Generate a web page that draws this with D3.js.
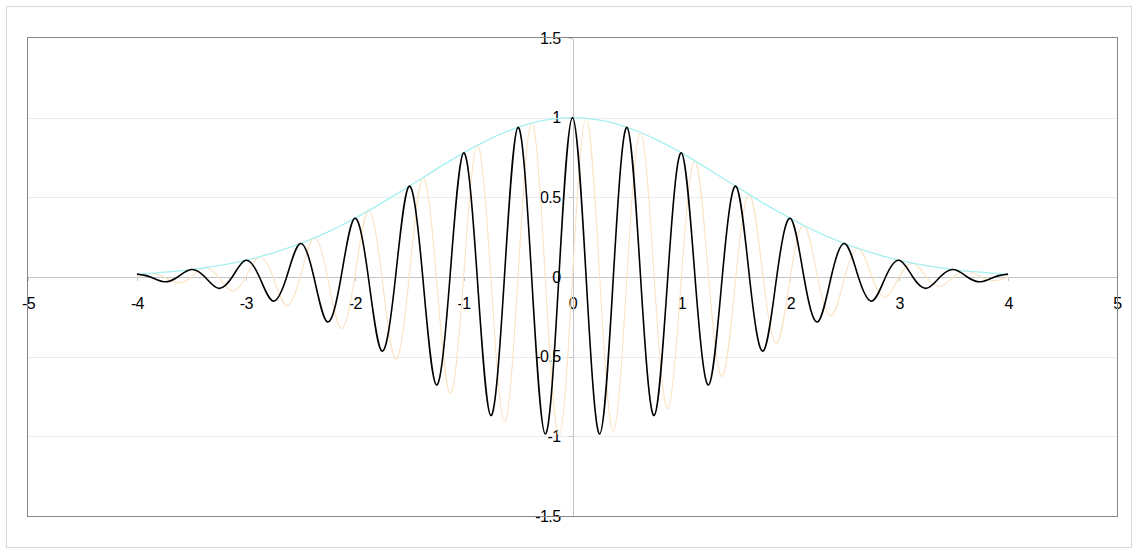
<!DOCTYPE html>
<html>
<head>
  <meta charset="utf-8">
  <script src="https://d3js.org/d3.v7.min.js"></script>
  <style>
    body { margin: 0; background: #ffffff; }
    text { font-family: 'Liberation Sans', Arial, sans-serif; font-size: 16px; fill: #000; }
    .grid line { stroke: #ececec; shape-rendering: crispEdges; }
    .axis path, .axis line { stroke: #c4c4c4; shape-rendering: crispEdges; }
    .line { fill: none; }
  </style>
</head>
<body>
  <div id="chart"></div>
  <script>
    // sample grid (x): every 1/8 unit from -4 to 4
    var xs = [-4, -3.875, -3.75, -3.625, -3.5, -3.375, -3.25, -3.125,
      -3, -2.875, -2.75, -2.625, -2.5, -2.375, -2.25, -2.125,
      -2, -1.875, -1.75, -1.625, -1.5, -1.375, -1.25, -1.125,
      -1, -0.875, -0.75, -0.625, -0.5, -0.375, -0.25, -0.125,
      0, 0.125, 0.25, 0.375, 0.5, 0.625, 0.75, 0.875,
      1, 1.125, 1.25, 1.375, 1.5, 1.625, 1.75, 1.875,
      2, 2.125, 2.25, 2.375, 2.5, 2.625, 2.75, 2.875,
      3, 3.125, 3.25, 3.375, 3.5, 3.625, 3.75, 3.875, 4];

    // black wave
    var blackVals = [0.018, 0, -0.030, 0, 0.047, 0, -0.071, 0,
      0.105, 0, -0.151, 0, 0.210, 0, -0.282, 0,
      0.368, 0, -0.465, 0, 0.570, 0, -0.677, 0,
      0.779, 0, -0.869, 0, 0.939, 0, -0.985, 0,
      1.000, 0, -0.985, 0, 0.939, 0, -0.869, 0,
      0.779, 0, -0.677, 0, 0.570, 0, -0.465, 0,
      0.368, 0, -0.282, 0, 0.210, 0, -0.151, 0,
      0.105, 0, -0.071, 0, 0.047, 0, -0.030, 0, 0.018];

    // faint orange wave (quarter period behind)
    var orangeVals = [0, 0.023, 0, -0.037, 0, 0.058, 0, -0.087,
      0, 0.127, 0, -0.179, 0, 0.244, 0, -0.323,
      0, 0.415, 0, -0.517, 0, 0.623, 0, -0.729,
      0, 0.826, 0, -0.907, 0, 0.966, 0, -0.996,
      0, 0.996, 0, -0.966, 0, 0.907, 0, -0.826,
      0, 0.729, 0, -0.623, 0, 0.517, 0, -0.415,
      0, 0.323, 0, -0.244, 0, 0.179, 0, -0.127,
      0, 0.087, 0, -0.058, 0, 0.037, 0, -0.023, 0];

    // cyan envelope
    var envVals = [0.018, 0.023, 0.030, 0.037, 0.047, 0.058, 0.071, 0.087,
      0.105, 0.127, 0.151, 0.179, 0.210, 0.244, 0.282, 0.323,
      0.368, 0.415, 0.465, 0.517, 0.570, 0.623, 0.677, 0.729,
      0.779, 0.826, 0.869, 0.907, 0.939, 0.966, 0.985, 0.996,
      1.000, 0.996, 0.985, 0.966, 0.939, 0.907, 0.869, 0.826,
      0.779, 0.729, 0.677, 0.623, 0.570, 0.517, 0.465, 0.415,
      0.368, 0.323, 0.282, 0.244, 0.210, 0.179, 0.151, 0.127,
      0.105, 0.087, 0.071, 0.058, 0.047, 0.037, 0.030, 0.023, 0.018];

    var xTicks = [-5, -4, -3, -2, -1, 0, 1, 2, 3, 4, 5];
    var yTicks = [-1.5, -1, -0.5, 0, 0.5, 1, 1.5];
    var gridLevels = [-1, -0.5, 0.5, 1];

    var width = 1138, height = 555;
    var plot = { left: 28, right: 1117, top: 38, bottom: 516 };

    var svg = d3.select("#chart").append("svg")
      .attr("width", width)
      .attr("height", height);

    // outer chart frame
    svg.append("rect")
      .attr("x", 6.5).attr("y", 6.5)
      .attr("width", 1125).attr("height", 541)
      .attr("fill", "#fff")
      .attr("stroke", "#d9d9d9");

    var x = d3.scaleLinear().domain([-5, 5]).range([plot.left, plot.right]);
    var y = d3.scaleLinear().domain([-1.5, 1.5]).range([plot.bottom, plot.top]);

    // plain hyphen labels, no trailing zeros (as Excel shows them)
    var fmt = function (d) { return String(d); };

    // gridlines
    svg.append("g").attr("class", "grid")
      .selectAll("line")
      .data(gridLevels)
      .enter().append("line")
      .attr("x1", plot.left).attr("x2", plot.right)
      .attr("y1", function (d) { return Math.round(y(d)) + 0.5; })
      .attr("y2", function (d) { return Math.round(y(d)) + 0.5; });

    // axes crossing at origin
    svg.append("g").attr("class", "axis")
      .attr("transform", "translate(0," + y(0) + ")")
      .call(d3.axisBottom(x).tickValues(xTicks).tickFormat(fmt)
        .tickSize(4).tickPadding(17).tickSizeOuter(0));

    svg.append("g").attr("class", "axis")
      .attr("transform", "translate(" + x(0) + ",0)")
      .call(d3.axisLeft(y).tickValues(yTicks).tickFormat(fmt)
        .tickSize(4).tickPadding(8).tickSizeOuter(0));

    svg.selectAll(".axis text")
      .attr("font-family", "'Liberation Sans', Arial, sans-serif")
      .attr("font-size", 16)
      .attr("letter-spacing", "-0.6px")
      .attr("fill", "#000");

    function series(vals) {
      return xs.map(function (d, i) { return [d, vals[i]]; });
    }

    var line = d3.line()
      .x(function (d) { return x(d[0]); })
      .y(function (d) { return y(d[1]); })
      .curve(d3.curveNatural);

    svg.append("path").attr("class", "line")
      .attr("d", line(series(orangeVals)))
      .attr("stroke", "#fbe2c2")
      .attr("stroke-width", 1.1);

    svg.append("path").attr("class", "line")
      .attr("d", line(series(envVals)))
      .attr("stroke", "#a6f0f0")
      .attr("stroke-width", 1.3);

    svg.append("path").attr("class", "line")
      .attr("d", line(series(blackVals)))
      .attr("stroke", "#000")
      .attr("stroke-width", 1.6);

    // plot area frame
    svg.append("rect")
      .attr("x", plot.left - 0.5).attr("y", plot.top - 0.5)
      .attr("width", plot.right - plot.left + 1)
      .attr("height", plot.bottom - plot.top + 1)
      .attr("fill", "none")
      .attr("stroke", "#868686");
  </script>
</body>
</html>
